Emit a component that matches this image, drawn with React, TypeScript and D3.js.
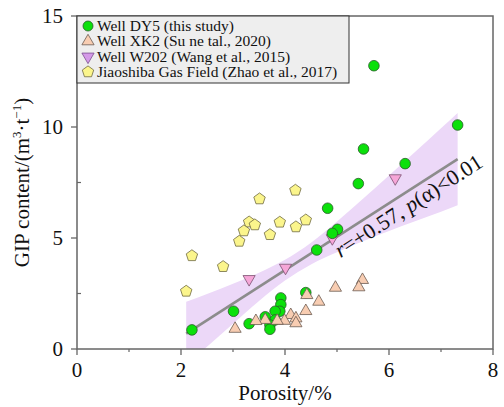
import React, { useEffect, useRef } from "react";
import * as d3 from "d3";

// ── Data ──────────────────────────────────────────────────────────────
const dy5X = [7.32, 5.51, 6.31, 5.41, 4.82, 5.01, 4.91, 4.61, 4.40, 3.01, 2.21, 3.31, 3.62, 3.92, 3.92, 3.90, 3.81, 3.81, 3.71, 3.71, 5.71];
const dy5Y = [10.09, 9.01, 8.35, 7.45, 6.34, 5.39, 5.21, 4.46, 2.54, 1.70, 0.86, 1.14, 1.45, 2.30, 2.00, 1.70, 1.70, 1.31, 1.08, 0.89, 12.76];

const xk2X = [5.49, 5.42, 4.97, 4.42, 4.65, 4.40, 4.11, 4.21, 4.21, 3.99, 3.85, 3.62, 3.44, 3.04];
const xk2Y = [3.11, 2.78, 2.76, 2.43, 2.13, 1.71, 1.53, 1.38, 1.16, 1.27, 1.27, 1.31, 1.26, 0.91];

const w202X = [6.12, 4.91, 4.01, 3.31];
const w202Y = [7.69, 4.99, 3.66, 3.15];

const jsbX = [4.20, 3.51, 3.31, 3.42, 3.90, 4.40, 4.21, 3.21, 3.71, 3.12, 2.21, 2.81, 2.10];
const jsbY = [7.15, 6.76, 5.72, 5.59, 5.71, 5.81, 5.50, 5.32, 5.15, 4.85, 4.20, 3.71, 2.60];

// fitted line end points and confidence band edges
const fitX = [2.1, 7.32];
const fitY = [0.69, 8.55];
const bandX = [2.1, 2.5, 3, 3.5, 4, 4.5, 5, 5.5, 6, 6.5, 7, 7.32];
const bandUpper = [2.13, 2.48, 2.94, 3.44, 4.02, 4.79, 5.74, 6.77, 7.82, 8.87, 9.94, 10.63];
const bandLower = [-0.75, 0.10, 1.14, 2.16, 3.08, 3.81, 4.36, 4.85, 5.31, 5.75, 6.18, 6.47];

const xTicks = [0, 2, 4, 6, 8];
const xMinor = [1, 3, 5, 7];
const yTicks = [0, 5, 10, 15];
const yMinor = [2.5, 7.5, 12.5];

const legendLabels = [
    "Well DY5 (this study)",
    "Well XK2 (Su ne tal., 2020)",
    "Well W202 (Wang et al., 2015)",
    "Jiaoshiba Gas Field (Zhao et al., 2017)",
];

const FONT = "'Liberation Serif', 'Times New Roman', serif";
const AXIS = "#666666";

const STYLE = {
    dy5:  { fill: "#0be00b", stroke: "#2a5a2a" },
    xk2:  { fill: "#f8cdb2", stroke: "#6b5a50" },
    w202: { fill: "#f6a6d8", stroke: "#7a5070" },
    jsb:  { fill: "#fbf58c", stroke: "#6e6a40" },
};

const W = 504, H = 407;
const margin = { top: 16, right: 11, bottom: 58, left: 77 };

const pentagon = (r: number) => {
    const pts = d3.range(5).map(i => {
        const a = -Math.PI / 2 + (i * 2 * Math.PI) / 5;
        return [r * Math.cos(a), r * Math.sin(a)];
    });
    return "M" + pts.map(p => p.join(",")).join("L") + "Z";
};

const App = () => {
    const svgRef = useRef<SVGSVGElement | null>(null);

    useEffect(() => {
        if (!svgRef.current) return;
        const svg = d3.select(svgRef.current);
        svg.selectAll("*").remove();

        const iw = W - margin.left - margin.right;
        const ih = H - margin.top - margin.bottom;

        const x = d3.scaleLinear().domain([0, 8]).range([0, iw]);
        const y = d3.scaleLinear().domain([0, 15]).range([ih, 0]);

        const g = svg.append("g").attr("transform", `translate(${margin.left},${margin.top})`);

        svg.append("defs").append("clipPath").attr("id", "plotclip")
            .append("rect").attr("x", 0).attr("y", 0).attr("width", iw).attr("height", ih);

        // ── Confidence band ───────────────────────────────────────────
        const band = d3.area<number>()
            .x(i => x(bandX[i]))
            .y0(i => y(bandLower[i]))
            .y1(i => y(bandUpper[i]))
            .curve(d3.curveMonotoneX);
        g.append("path")
            .attr("clip-path", "url(#plotclip)")
            .attr("d", band(d3.range(bandX.length)))
            .attr("fill", "#ecd8f8");

        // ── Fit line ──────────────────────────────────────────────────
        g.append("line")
            .attr("x1", x(fitX[0])).attr("y1", y(fitY[0]))
            .attr("x2", x(fitX[1])).attr("y2", y(fitY[1]))
            .attr("stroke", "#8c8c8c")
            .attr("stroke-width", 2.6);

        // ── Markers ───────────────────────────────────────────────────
        const tri = d3.symbol().type(d3.symbolTriangle).size(64)();

        jsbX.forEach((v, i) => {
            g.append("path")
                .attr("d", pentagon(6))
                .attr("transform", `translate(${x(v)},${y(jsbY[i])})`)
                .attr("fill", STYLE.jsb.fill).attr("stroke", STYLE.jsb.stroke).attr("stroke-width", 0.8);
        });

        w202X.forEach((v, i) => {
            g.append("path")
                .attr("d", tri)
                .attr("transform", `translate(${x(v)},${y(w202Y[i])}) rotate(180)`)
                .attr("fill", STYLE.w202.fill).attr("stroke", STYLE.w202.stroke).attr("stroke-width", 0.8);
        });

        dy5X.forEach((v, i) => {
            g.append("circle")
                .attr("cx", x(v)).attr("cy", y(dy5Y[i])).attr("r", 5.3)
                .attr("fill", STYLE.dy5.fill).attr("stroke", STYLE.dy5.stroke).attr("stroke-width", 0.8);
        });

        xk2X.forEach((v, i) => {
            g.append("path")
                .attr("d", tri)
                .attr("transform", `translate(${x(v)},${y(xk2Y[i])})`)
                .attr("fill", STYLE.xk2.fill).attr("stroke", STYLE.xk2.stroke).attr("stroke-width", 0.8);
        });

        // ── Annotation along the fit line ─────────────────────────────
        const ax0 = x(fitX[0]), ay0 = y(fitY[0]);
        const ax1 = x(fitX[1]), ay1 = y(fitY[1]);
        const angle = Math.atan2(ay0 - ay1, ax1 - ax0) * 180 / Math.PI;
        const t = (4.86 - fitX[0]) / (fitX[1] - fitX[0]);
        const anno = g.append("text")
            .attr("transform", `translate(${ax0 + t * (ax1 - ax0)},${ay0 + t * (ay1 - ay0)}) rotate(${-angle})`)
            .attr("y", 20)
            .attr("font-family", FONT)
            .attr("font-size", "22px")
            .attr("fill", "#111");
        anno.append("tspan").attr("font-style", "italic").text("r");
        anno.append("tspan").text("=+0.57, ");
        anno.append("tspan").attr("font-style", "italic").text("p");
        anno.append("tspan").text("(α)<0.01");

        // ── Frame and ticks ───────────────────────────────────────────
        g.append("rect")
            .attr("x", 0).attr("y", 0).attr("width", iw).attr("height", ih)
            .attr("fill", "none").attr("stroke", AXIS).attr("stroke-width", 1.5);

        xTicks.forEach(v => {
            g.append("line").attr("x1", x(v)).attr("x2", x(v)).attr("y1", ih).attr("y2", ih + 6)
                .attr("stroke", AXIS).attr("stroke-width", 1.3);
            g.append("text")
                .attr("x", x(v)).attr("y", ih + 28)
                .attr("text-anchor", "middle")
                .attr("font-family", FONT).attr("font-size", "21px").attr("fill", "#111")
                .text(v);
        });
        xMinor.forEach(v => {
            g.append("line").attr("x1", x(v)).attr("x2", x(v)).attr("y1", ih).attr("y2", ih + 3)
                .attr("stroke", AXIS).attr("stroke-width", 1.2);
        });

        yTicks.forEach(v => {
            g.append("line").attr("x1", -6).attr("x2", 0).attr("y1", y(v)).attr("y2", y(v))
                .attr("stroke", AXIS).attr("stroke-width", 1.3);
            g.append("text")
                .attr("x", -14).attr("y", y(v) + 7)
                .attr("text-anchor", "end")
                .attr("font-family", FONT).attr("font-size", "21px").attr("fill", "#111")
                .text(v);
        });
        yMinor.forEach(v => {
            g.append("line").attr("x1", 0).attr("x2", 4).attr("y1", y(v)).attr("y2", y(v))
                .attr("stroke", AXIS).attr("stroke-width", 1.2);
        });

        // ── Axis titles ───────────────────────────────────────────────
        g.append("text")
            .attr("x", iw / 2).attr("y", ih + 51)
            .attr("text-anchor", "middle")
            .attr("font-family", FONT).attr("font-size", "21px").attr("fill", "#111")
            .text("Porosity/%");

        const yl = svg.append("text")
            .attr("transform", `translate(29,${margin.top + ih / 2}) rotate(-90)`)
            .attr("text-anchor", "middle")
            .attr("font-family", FONT).attr("font-size", "21px").attr("fill", "#111");
        yl.append("tspan").text("GIP content/(m");
        yl.append("tspan").attr("dy", -8).attr("font-size", "13px").text("3");
        yl.append("tspan").attr("dy", 8).text("·t");
        yl.append("tspan").attr("dy", -8).attr("font-size", "13px").text("−1");
        yl.append("tspan").attr("dy", 8).text(")");

        // ── Legend ────────────────────────────────────────────────────
        const lg = g.append("g");
        lg.append("rect")
            .attr("x", 0).attr("y", 0).attr("width", 272).attr("height", 67)
            .attr("fill", "#eeeeee").attr("stroke", "#333").attr("stroke-width", 1);

        const legendMarks = [
            (s: any) => s.append("circle").attr("r", 5).attr("fill", STYLE.dy5.fill).attr("stroke", STYLE.dy5.stroke).attr("stroke-width", 0.8),
            (s: any) => s.append("path").attr("d", tri).attr("fill", STYLE.xk2.fill).attr("stroke", STYLE.xk2.stroke).attr("stroke-width", 0.8),
            (s: any) => s.append("path").attr("d", tri).attr("transform", "rotate(180)").attr("fill", "#d49ae8").attr("stroke", "#7a4c90").attr("stroke-width", 0.8),
            (s: any) => s.append("path").attr("d", pentagon(6)).attr("fill", STYLE.jsb.fill).attr("stroke", STYLE.jsb.stroke).attr("stroke-width", 0.8),
        ];

        legendLabels.forEach((label, i) => {
            const row = lg.append("g").attr("transform", `translate(0,${10 + i * 15.3})`);
            legendMarks[i](row.append("g").attr("transform", "translate(11,0)"));
            row.append("text")
                .attr("x", 20).attr("y", 5)
                .attr("font-family", FONT).attr("font-size", "15.5px").attr("fill", "#111")
                .text(label);
        });
    }, []);

    return (
        <svg
            ref={svgRef}
            width={W}
            height={H}
            style={{ position: "absolute", left: 0, top: 0, background: "#fff" }}
        />
    );
};

export default App;
